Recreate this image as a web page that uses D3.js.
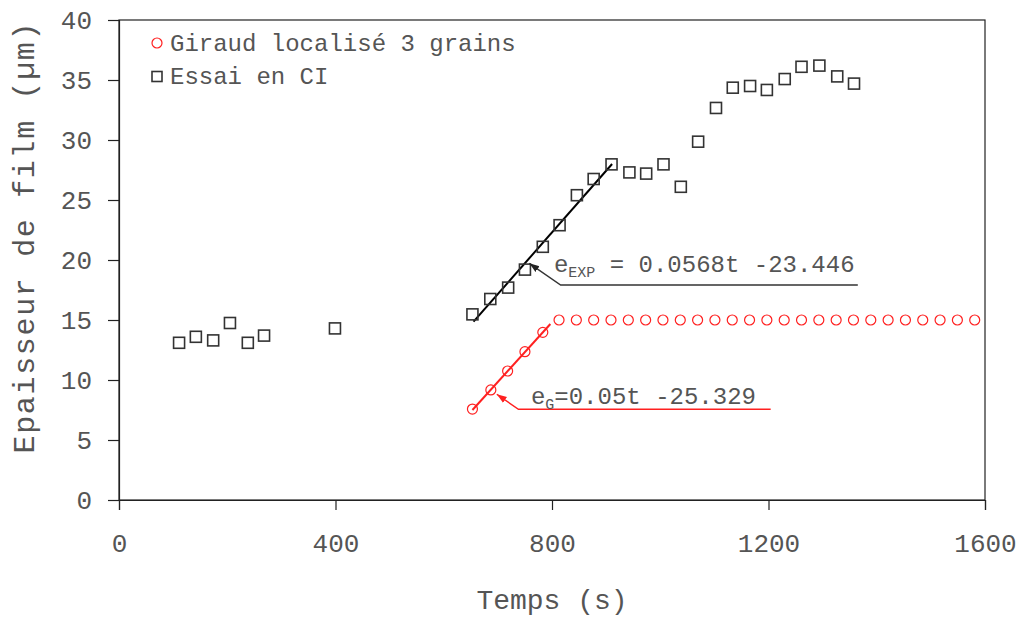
<!DOCTYPE html>
<html><head><meta charset="utf-8">
<script src="https://cdn.jsdelivr.net/npm/d3@7"></script>
<style>
body{margin:0;background:#fff;}
text{font-family:"Liberation Mono","Courier New",monospace;fill:#555;}
</style></head>
<body><svg id="c" width="1024" height="618"></svg>
<script>
// ---- data ----
const essaiT = [111,142,174,205,238,268,399,653,686,719,750,783,814,846,877,910,943,974,1006,1038,1070,1103,1134,1166,1197,1230,1261,1294,1327,1358];
const essaiV = [13.1,13.6,13.3,14.75,13.1,13.7,14.3,15.47,16.75,17.7,19.2,21.1,22.9,25.4,26.75,27.97,27.3,27.2,27.97,26.1,29.86,32.67,34.36,34.5,34.17,35.08,36.1,36.2,35.3,34.7];
const giraudT = [653,687,718,750,783,813,845,877,909,941,973,1005,1037,1069,1101,1133,1165,1197,1229,1261,1293,1325,1357,1389,1421,1453,1485,1517,1549,1581];
const giraudV = [7.58,9.17,10.75,12.36,13.97,15,15,15,15,15,15,15,15,15,15,15,15,15,15,15,15,15,15,15,15,15,15,15,15,15];
const fitExpT = [655,911], fitExpV = [14.86,28.0];
const fitGT = [653,797], fitGV = [7.5,14.67];
const xTicks = [0,400,800,1200,1600];
const yTicks = [0,5,10,15,20,25,30,35,40];
const seriesNames = ["Giraud localisé 3 grains","Essai en CI"];
// annotations: leader tip, elbow, end (t,v) and text anchor
const annExp = {tip:[758,19.72], elbow:[816,17.92], end:[1365,17.92], text:[803.5,19.0], main:"e", sub:"EXP", rest:" = 0.0568t -23.446"};
const annG = {tip:[698,8.81], elbow:[738,7.56], end:[1204,7.56], text:[761,8.0], main:"e", sub:"G", rest:"=0.05t -25.329"};

// ---- layout ----
const L=119, T=20, W=866, H=480;
const svg=d3.select("#c");
const x=d3.scaleLinear().domain([0,1600]).range([L,L+W]);
const y=d3.scaleLinear().domain([0,40]).range([T+H,T]);
const red="#ff2020";

const defs=svg.append("defs");
[["arrK","#222"],["arrR",red]].forEach(([id,c])=>{
  defs.append("marker").attr("id",id).attr("viewBox","0 0 10 10").attr("refX",10).attr("refY",5)
   .attr("markerWidth",10).attr("markerHeight",10).attr("markerUnits","userSpaceOnUse").attr("orient","auto")
   .append("path").attr("d","M0,1.5 L10,5 L0,8.5 Z").attr("fill",c);
});

// frame
svg.append("rect").attr("x",L).attr("y",T).attr("width",W).attr("height",H)
  .attr("fill","none").attr("stroke","#222").attr("stroke-width",1.2);

// axes
const yAx=svg.append("g").attr("transform",`translate(${L},0)`)
  .call(d3.axisLeft(y).tickValues(yTicks).tickSize(11).tickPadding(16).tickFormat(d3.format("d")));
const xAx=svg.append("g").attr("transform",`translate(0,${T+H})`)
  .call(d3.axisBottom(x).tickValues(xTicks).tickSize(10).tickPadding(24).tickFormat(d3.format("d")));
[yAx,xAx].forEach(g=>{
  g.select(".domain").attr("stroke","#222").attr("stroke-width",1.2);
  g.selectAll(".tick line").attr("stroke","#222").attr("stroke-width",1.2);
  g.selectAll(".tick text").attr("font-size",26).attr("font-family","Liberation Mono").attr("fill","#555");
});

// axis titles
svg.append("text").attr("x",L+W/2).attr("y",609).attr("text-anchor","middle")
  .attr("font-size",28).text("Temps (s)");
svg.append("text").attr("transform","translate(34,238) rotate(-90)").attr("text-anchor","middle")
  .attr("font-size",30).attr("textLength",431).attr("lengthAdjust","spacing")
  .text("Epaisseur de film (µm)");

// fit lines
const line=d3.line().x(d=>x(d[0])).y(d=>y(d[1]));
svg.append("path").attr("d",line(d3.zip(fitExpT,fitExpV))).attr("stroke","#000").attr("stroke-width",2).attr("fill","none");
svg.append("path").attr("d",line(d3.zip(fitGT,fitGV))).attr("stroke",red).attr("stroke-width",2).attr("fill","none");

// points
svg.append("g").selectAll("circle").data(d3.zip(giraudT,giraudV)).join("circle")
  .attr("cx",d=>x(d[0])).attr("cy",d=>y(d[1])).attr("r",5)
  .attr("fill","none").attr("stroke",red).attr("stroke-width",1.2);
const s=11;
svg.append("g").selectAll("rect").data(d3.zip(essaiT,essaiV)).join("rect")
  .attr("x",d=>x(d[0])-s/2).attr("y",d=>y(d[1])-s/2).attr("width",s).attr("height",s)
  .attr("fill","none").attr("stroke","#333").attr("stroke-width",1.6);

// annotations
function ann(a,col,mk){
  svg.append("path").attr("d",line([a.end,a.elbow,a.tip])).attr("fill","none")
    .attr("stroke",col).attr("stroke-width",1.4).attr("marker-end",`url(#${mk})`);
  const t=svg.append("text").attr("x",x(a.text[0])).attr("y",y(a.text[1])).attr("font-size",24);
  t.append("tspan").text(a.main);
  t.append("tspan").attr("font-size",15).attr("dy",5).text(a.sub);
  t.append("tspan").attr("dy",-5).text(a.rest);
}
ann(annExp,"#333","arrK");
ann(annG,red,"arrR");

// legend
const lg=svg.append("g");
lg.append("circle").attr("cx",157).attr("cy",43).attr("r",5).attr("fill","none").attr("stroke",red).attr("stroke-width",1.2);
lg.append("rect").attr("x",152).attr("y",71.5).attr("width",10).attr("height",10).attr("fill","none").attr("stroke","#333").attr("stroke-width",1.6);
lg.append("text").attr("x",170).attr("y",51).attr("font-size",24).text(seriesNames[0]);
lg.append("text").attr("x",170).attr("y",84).attr("font-size",24).text(seriesNames[1]);
</script></body></html>
